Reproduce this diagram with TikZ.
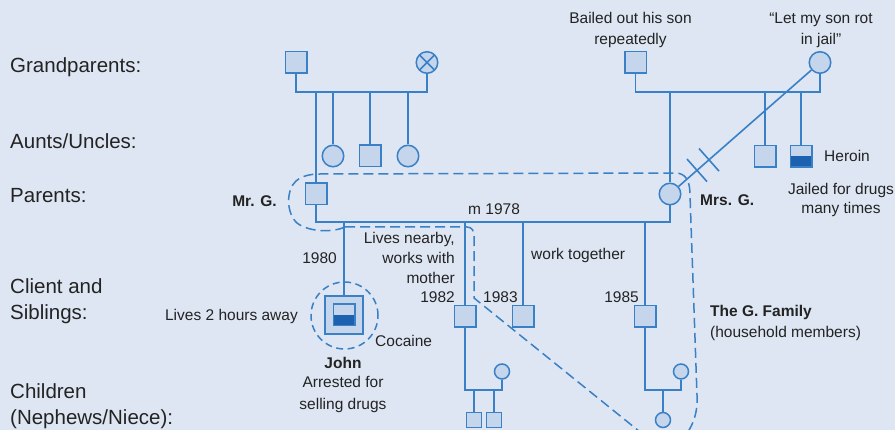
\documentclass[tikz,border=0pt]{standalone}
\usepackage{fontspec}
\setmainfont{Liberation Sans}
\usetikzlibrary{calc}

\definecolor{bgblue}{RGB}{221,230,242}
\definecolor{symfill}{RGB}{196,213,236}
\definecolor{pedline}{RGB}{58,128,198}
\definecolor{darkfill}{RGB}{28,96,176}
\definecolor{ink}{RGB}{35,35,35}

\tikzset{
  pedlink/.style={draw=pedline, line width=1.6pt},
  male/.style={rectangle, draw=pedline, fill=symfill, line width=1.5pt,
    minimum size=21.5pt, inner sep=0pt},
  female/.style={circle, draw=pedline, fill=symfill, line width=1.5pt,
    minimum size=21.5pt, inner sep=0pt},
  smallmale/.style={male, minimum size=15pt},
  smallfemale/.style={female, minimum size=15pt},
  lowerhalf/.style={path picture={\fill[darkfill]
    (path picture bounding box.south west) rectangle (path picture bounding box.east);}},
  deceased/.style={path picture={\draw[pedline, line width=1.5pt]
    (path picture bounding box.north west) -- (path picture bounding box.south east)
    (path picture bounding box.south west) -- (path picture bounding box.north east);}},
  genlabel/.style={font=\fontsize{20.5}{26}\selectfont, text=ink, inner sep=0pt,
    align=left, anchor=west},
  note/.style={font=\fontsize{15.5}{21}\selectfont, text=ink, inner sep=0pt},
  tag/.style={note, font=\fontsize{15.5}{21}\selectfont\bfseries},
  familyline/.style={draw=pedline, line width=1.5pt, dash pattern=on 10pt off 5pt},
  clientring/.style={circle, draw=pedline, line width=1.5pt,
    dash pattern=on 7pt off 4.5pt, minimum size=67pt, inner sep=0pt},
}

\begin{document}
\begin{tikzpicture}[x=1pt, y=-1pt]
  \useasboundingbox (0,0) rectangle (895,430);
  \fill[bgblue] (0,0) rectangle (895,430);
  \clip (0,0) rectangle (895,430);

  % generation labels
  \node[genlabel] (lgp) at (10,67) {Grandparents:};
  \node[genlabel] (lau) at (10,141) {Aunts/Uncles:};
  \node[genlabel] (lpa) at (10,196) {Parents:};
  \node[genlabel] (lcs) at (10,301) {Client and\\Siblings:};
  \node[genlabel] (lch) at (10,406) {Children\\(Nephews/Niece):};

  % bar heights
  \coordinate (patbar) at (0,92);
  \coordinate (matbar) at (0,92);
  \coordinate (marbar) at (0,222);
  \coordinate (kidbar) at (0,390);

  % paternal side
  \node[male] (gpat) at (296,62.5) {};
  \node[female, deceased] (gmpat) at (427,62.5) {};
  \node[male] (mrg) at (316,194) {};
  \node[female] (aunt1) at (333,156) {};
  \node[male] (uncle1) at (370,156) {};
  \node[female] (aunt2) at (408,156) {};

  % maternal side
  \node[male] (gpmat) at (635.5,62.5) {};
  \node[female] (gmmat) at (820,62.5) {};
  \node[female] (mrsg) at (670,194) {};
  \node[male] (uncle2) at (765,156.5) {};
  \node[male, lowerhalf] (uncle3) at (801,156.5) {};

  % client and siblings
  \node[male, minimum size=38pt] (john) at (344,315) {};
  \node[male, lowerhalf] (johnin) at (344,315) {};
  \node[clientring] (johnring) at (344.5,315.5) {};
  \node[male] (s82) at (465,316.5) {};
  \node[male] (s83) at (523,316.5) {};
  \node[male] (s85) at (645,316.5) {};

  % next generation
  \node[smallfemale] (w82) at (502,371.5) {};
  \node[smallmale] (n82a) at (474,420) {};
  \node[smallmale] (n82b) at (494,420) {};
  \node[smallfemale] (w85) at (681,371.5) {};
  \node[smallfemale] (n85) at (663,420) {};

  % paternal sibship
  \draw[pedlink] (gpat.south) |- (gmpat.south |- patbar) -- (gmpat.south);
  \draw[pedlink] (mrg.north) -- (mrg.north |- patbar);
  \draw[pedlink] (aunt1.north) -- (aunt1.north |- patbar);
  \draw[pedlink] (uncle1.north) -- (uncle1.north |- patbar);
  \draw[pedlink] (aunt2.north) -- (aunt2.north |- patbar);

  % maternal sibship
  \draw[pedlink] (gpmat.south) |- (gmmat.south |- matbar) -- (gmmat.south);
  \draw[pedlink] (mrsg.north) -- (mrsg.north |- matbar);
  \draw[pedlink] (uncle2.north) -- (uncle2.north |- matbar);
  \draw[pedlink] (uncle3.north) -- (uncle3.north |- matbar);

  % cut-off between grandmother and Mrs. G.
  \draw[pedlink] (gmmat) -- (mrsg);
  \coordinate (cut1) at ($(gmmat)!0.82!(mrsg)$);
  \coordinate (cut2) at ($(gmmat)!0.74!(mrsg)$);
  \draw[pedlink] ($(cut1)+(-10,-11.3)$) -- ($(cut1)+(10,11.3)$);
  \draw[pedlink] ($(cut2)+(-10,-11.3)$) -- ($(cut2)+(10,11.3)$);

  % marriage and children
  \draw[pedlink] (mrg.south) |- (mrsg.south |- marbar) -- (mrsg.south);
  \draw[pedlink] (john.north) -- (john.north |- marbar);
  \draw[pedlink] (s82.north) -- (s82.north |- marbar);
  \draw[pedlink] (s83.north) -- (s83.north |- marbar);
  \draw[pedlink] (s85.north) -- (s85.north |- marbar);

  % grandchildren
  \draw[pedlink] (s82.south) |- (w82.south |- kidbar) -- (w82.south);
  \draw[pedlink] (n82a.north) -- (n82a.north |- kidbar);
  \draw[pedlink] (n82b.north) -- (n82b.north |- kidbar);
  \draw[pedlink] (s85.south) |- (w85.south |- kidbar) -- (w85.south);
  \draw[pedlink] (n85.north) -- (n85.north |- kidbar);

  % household boundary
  \draw[familyline] (345,227) .. controls (335,232) and (310,233) .. (297,223)
    .. controls (286,213) and (286,190) .. (296,181)
    .. controls (302,176) and (310,174) .. (320,174) -- (675,173)
    .. controls (686,173) and (690,181) .. (690,195) -- (697,395)
    .. controls (698,415) and (692,428) .. (682,440);
  \draw[familyline] (345,227) -- (467,227) .. controls (472,227) and (474,231) .. (474,236)
    -- (474,298) -- (650,440);

  % annotations
  \node[note, align=center] (bailed) at (630.5,30) {Bailed out his son\\repeatedly};
  \node[note, align=center] (rot) at (821,30) {“Let my son rot\\in jail”};
  \node[note, anchor=west] (heroin) at (824,156) {Heroin};
  \node[note, align=center, font=\fontsize{15.5}{19.5}\selectfont] (jailed) at (841,200) {Jailed for drugs\\many times};
  \node[tag, anchor=east] (mrgname) at (277,201) {Mr. G.};
  \node[tag, anchor=west] (mrsgname) at (700,200) {Mrs. G.};
  \node[note, anchor=west] (married) at (468,209) {m 1978};
  \node[note, anchor=east] (y80) at (337,258) {1980};
  \node[note, anchor=east, align=right, font=\fontsize{15.5}{20}\selectfont] (nearby) at (455,258) {Lives nearby,\\works with\\mother};
  \node[note, anchor=west] (worktog) at (531,255) {work together};
  \node[note, anchor=east] (y82) at (455,297) {1982};
  \node[note, anchor=west] (y83) at (483,297) {1983};
  \node[note, anchor=east] (y85) at (639,297) {1985};
  \node[note, anchor=east] (away) at (298,316) {Lives 2 hours away};
  \node[note, anchor=west] (cocaine) at (375,341) {Cocaine};
  \node[tag] (johnname) at (343,363) {John};
  \node[note, align=center, font=\fontsize{15.5}{22}\selectfont] (arrested) at (343,394) {Arrested for\\selling drugs};
  \node[tag, anchor=west] (family) at (710,312) {The G. Family};
  \node[note, anchor=west] (household) at (710,333) {(household members)};
\end{tikzpicture}
\end{document}
